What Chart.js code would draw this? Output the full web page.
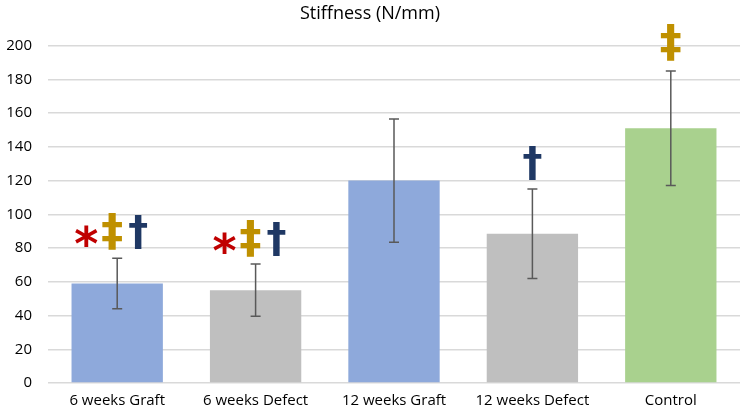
<!DOCTYPE html>
<html>
<head>
<meta charset="utf-8">
<script src="https://cdn.jsdelivr.net/npm/chart.js@4"></script>
<style>
  html,body{margin:0;padding:0;background:#fff}
  #wrap{width:744px;height:415px}
</style>
</head>
<body>
<div id="wrap"><canvas id="c"></canvas></div>
<script>
const categories = ['6 weeks Graft','6 weeks Defect','12 weeks Graft','12 weeks Defect','Control'];
const stiffness = [59, 55, 120, 88.5, 151];
const errors = [15, 15.5, 36.5, 26.5, 34];
const barColors = ['#8EA9DB','#BFBFBF','#8EA9DB','#BFBFBF','#A9D18E'];
const yTicks = [0,20,40,60,80,100,120,140,160,180,200];
// significance marks above each bar: symbols and the value they sit at
const markSymbols = [['*','‡','†'], ['*','‡','†'], [], ['†'], ['‡']];
const markLevels = [88, 84, null, 129, 200];
const markColors = {'*':'#C00000','‡':'#BF9000','†':'#1F3864'};

// error bars
const errBars = {
  id:'errBars',
  afterDatasetsDraw(chart){
    const {ctx, scales:{x,y}} = chart;
    ctx.save();
    ctx.strokeStyle = '#595959'; ctx.lineWidth = 1.5;
    stiffness.forEach((v,i)=>{
      const cx = x.getPixelForValue(i);
      const t = y.getPixelForValue(v+errors[i]), b = y.getPixelForValue(v-errors[i]);
      ctx.beginPath();
      ctx.moveTo(cx,t); ctx.lineTo(cx,b);
      ctx.moveTo(cx-5,t); ctx.lineTo(cx+5,t);
      ctx.moveTo(cx-5,b); ctx.lineTo(cx+5,b);
      ctx.stroke();
    });
    ctx.restore();
  }
};

// * ‡ † marks
const marks = {
  id:'marks',
  afterDatasetsDraw(chart){
    const {ctx, scales:{x,y}} = chart;
    ctx.save();
    ctx.textAlign = 'center'; ctx.textBaseline = 'middle';
    markSymbols.forEach((syms,i)=>{
      if(!syms.length) return;
      const cx = x.getPixelForValue(i) + (syms.length>1 ? -5 : 0);
      const cy = y.getPixelForValue(markLevels[i]);
      syms.forEach((s,k)=>{
        const px = cx + (k-(syms.length-1)/2)*26;
        ctx.fillStyle = markColors[s];
        ctx.font = s==='*' ? 'bold 46px "DejaVu Sans"' : (s==='‡' ? 'bold 44px "DejaVu Sans"' : 'bold 40px "DejaVu Sans"');
        ctx.fillText(s, px, cy + (s==='*' ? 14 : 0));
      });
    });
    ctx.restore();
  }
};

new Chart(document.getElementById('c'), {
  type:'bar',
  data:{ labels:categories, datasets:[{ data:stiffness, backgroundColor:barColors, barPercentage:0.66, categoryPercentage:1 }] },
  options:{
    responsive:true, maintainAspectRatio:false, animation:false,
    layout:{ padding:{left:0,right:4,top:0,bottom:4} },
    plugins:{
      legend:{display:false}, tooltip:{enabled:false},
      title:{ display:true, text:'Stiffness (N/mm)', color:'#000',
        font:{family:'"Open Sans"', size:18, weight:'normal'}, padding:{top:3,bottom:21} }
    },
    scales:{
      x:{ grid:{display:false}, border:{display:false},
        ticks:{color:'#000', font:{family:'"Open Sans"', size:15}, padding:1} },
      y:{ min:0, max:200, afterBuildTicks(s){ s.ticks = yTicks.map(v=>({value:v})); },
        afterFit(s){ s.width = 48; },
        grid:{color:'#D9D9D9', lineWidth:1.5, drawTicks:false}, border:{display:false},
        ticks:{color:'#000', font:{family:'"Open Sans"', size:15}, padding:16} }
    }
  },
  plugins:[errBars, marks]
});
</script>
</body>
</html>
